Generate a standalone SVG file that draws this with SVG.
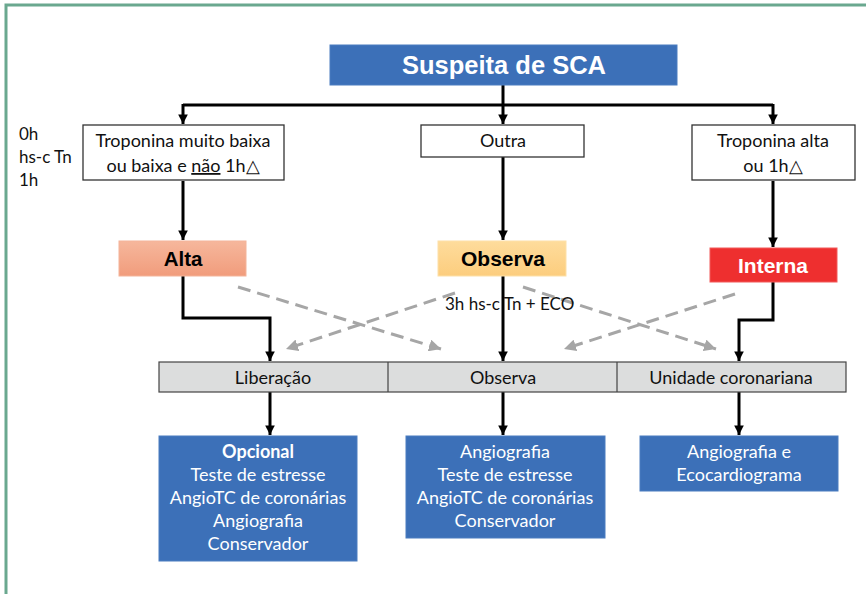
<svg xmlns="http://www.w3.org/2000/svg" width="866" height="594" viewBox="0 0 866 594">
  <defs>
    <marker id="ah" viewBox="0 0 10 10" refX="10" refY="5" markerWidth="3.2" markerHeight="3.2" orient="auto" markerUnits="strokeWidth">
      <path d="M0,0 L10,5 L0,10 Z" fill="#000"/>
    </marker>
    <marker id="ahg" viewBox="0 0 10 10" refX="10" refY="5" markerWidth="4" markerHeight="4" orient="auto" markerUnits="strokeWidth">
      <path d="M0,0 L10,5 L0,10 Z" fill="#a6a6a6"/>
    </marker>
    <style>
      .frame { fill: none; stroke: #6aa88f; stroke-width: 3; }
      .box { fill: #fff; stroke: #333; stroke-width: 1.3; }
      .blue { fill: #3c70b8; stroke: #4a7cc0; stroke-width: 1; }
      .bar { fill: #dcdddd; stroke: #444; stroke-width: 1.2; }
      .t { font-family: Lato, "Open Sans", sans-serif; font-size: 18px; fill: #111; text-anchor: middle; }
      .tl { font-family: Lato, "Open Sans", sans-serif; font-size: 17px; fill: #111; }
      .tw { font-family: Lato, "Open Sans", sans-serif; font-size: 18px; fill: #fff; text-anchor: middle; }
      .hb { font-family: "Liberation Sans", Arial, sans-serif; font-weight: bold; text-anchor: middle; }
      .wire { fill: none; stroke: #000; stroke-width: 3; }
      .dash { fill: none; stroke: #a6a6a6; stroke-width: 3; stroke-dasharray: 13 7; }
    </style>
    <linearGradient id="gAlta" x1="0" y1="0" x2="0" y2="1">
      <stop offset="0" stop-color="#f6b79c"/>
      <stop offset="1" stop-color="#f19c7c"/>
    </linearGradient>
    <linearGradient id="gObs" x1="0" y1="0" x2="0" y2="1">
      <stop offset="0" stop-color="#fedc9c"/>
      <stop offset="1" stop-color="#fccd7e"/>
    </linearGradient>
  </defs>

  <!-- outer frame -->
  <path class="frame" d="M6,594 V5 H866"/>

  <!-- time labels -->
  <g id="time-labels">
    <text class="tl" x="19" y="140">0h</text>
    <text class="tl" x="19" y="163">hs-c Tn</text>
    <text class="tl" x="19" y="186">1h</text>
  </g>

  <!-- connectors -->
  <g id="connectors">
    <path class="wire" d="M503,85 V105"/>
    <path class="wire" d="M183,105 H773"/>
    <path class="wire" d="M183,104 V124" marker-end="url(#ah)"/>
    <path class="wire" d="M503,105 V124" marker-end="url(#ah)"/>
    <path class="wire" d="M773,104 V124" marker-end="url(#ah)"/>

    <path class="wire" d="M183,181 V240" marker-end="url(#ah)"/>
    <path class="wire" d="M503,157 V240" marker-end="url(#ah)"/>
    <path class="wire" d="M773,181 V247" marker-end="url(#ah)"/>

    <path class="wire" d="M183,276 V318 H270 V361" marker-end="url(#ah)"/>
    <path class="wire" d="M503,276 V361" marker-end="url(#ah)"/>
    <path class="wire" d="M773,282 V320 H739 V361" marker-end="url(#ah)"/>

    <path class="wire" d="M270,392 V435" marker-end="url(#ah)"/>
    <path class="wire" d="M503,392 V435" marker-end="url(#ah)"/>
    <path class="wire" d="M739,392 V435" marker-end="url(#ah)"/>

    <path class="dash" d="M238,287 L441,349" marker-end="url(#ahg)"/>
    <path class="dash" d="M455,293 L286,349" marker-end="url(#ahg)"/>
    <path class="dash" d="M523,287 L716,349" marker-end="url(#ahg)"/>
    <path class="dash" d="M735,294 L564,349" marker-end="url(#ahg)"/>

    <text class="tl" x="445" y="310">3h hs-c Tn + ECO</text>
  </g>

  <!-- top node -->
  <g id="suspeita">
    <rect x="330" y="45" width="347" height="40" fill="#3c70b8" stroke="#4a7cc0"/>
    <text class="hb" x="504" y="74" font-size="25.5" fill="#fff">Suspeita de SCA</text>
  </g>

  <!-- troponin criteria -->
  <g id="trop-baixa">
    <rect class="box" x="83" y="125" width="201" height="55"/>
    <text class="t" x="183" y="147">Troponina muito baixa</text>
    <text class="t" x="183" y="172">ou baixa e <tspan text-decoration="underline">não</tspan> 1h△</text>
  </g>
  <g id="outra">
    <rect class="box" x="421" y="125" width="163" height="32"/>
    <text class="t" x="503" y="147">Outra</text>
  </g>
  <g id="trop-alta">
    <rect class="box" x="692" y="125" width="163" height="55"/>
    <text class="t" x="773" y="147">Troponina alta</text>
    <text class="t" x="773" y="172">ou 1h△</text>
  </g>

  <!-- risk decision -->
  <g id="alta">
    <rect x="119" y="241" width="127" height="35" fill="url(#gAlta)" stroke="#f3b49a"/>
    <text class="hb" x="183" y="266" font-size="20.5" fill="#000">Alta</text>
  </g>
  <g id="observa">
    <rect x="438" y="241" width="128" height="35" fill="url(#gObs)" stroke="#fde0a8"/>
    <text class="hb" x="503" y="266" font-size="21" fill="#000">Observa</text>
  </g>
  <g id="interna">
    <rect x="710" y="248" width="127" height="34" fill="#ee2f2f" stroke="#f25a5a"/>
    <text class="hb" x="773" y="273" font-size="21" fill="#fff">Interna</text>
  </g>

  <!-- destination bar -->
  <g id="destino">
    <rect class="bar" x="159" y="362" width="687" height="30"/>
    <path d="M388,362 V392 M617,362 V392" stroke="#444" stroke-width="1.2"/>
    <text class="t" x="273" y="384">Liberação</text>
    <text class="t" x="503" y="384">Observa</text>
    <text class="t" x="731" y="384">Unidade coronariana</text>
  </g>

  <!-- management options -->
  <g id="manejo-liberacao">
    <rect class="blue" x="159" y="436" width="198" height="125"/>
    <text class="tw" x="258" y="458" font-weight="bold">Opcional</text>
    <text class="tw" x="258" y="481">Teste de estresse</text>
    <text class="tw" x="258" y="504">AngioTC de coronárias</text>
    <text class="tw" x="258" y="527">Angiografia</text>
    <text class="tw" x="258" y="550">Conservador</text>
  </g>
  <g id="manejo-observa">
    <rect class="blue" x="406" y="436" width="199" height="102"/>
    <text class="tw" x="505" y="458">Angiografia</text>
    <text class="tw" x="505" y="481">Teste de estresse</text>
    <text class="tw" x="505" y="504">AngioTC de coronárias</text>
    <text class="tw" x="505" y="527">Conservador</text>
  </g>
  <g id="manejo-unidade">
    <rect class="blue" x="640" y="436" width="198" height="55"/>
    <text class="tw" x="739" y="458">Angiografia e</text>
    <text class="tw" x="739" y="481">Ecocardiograma</text>
  </g>
</svg>
